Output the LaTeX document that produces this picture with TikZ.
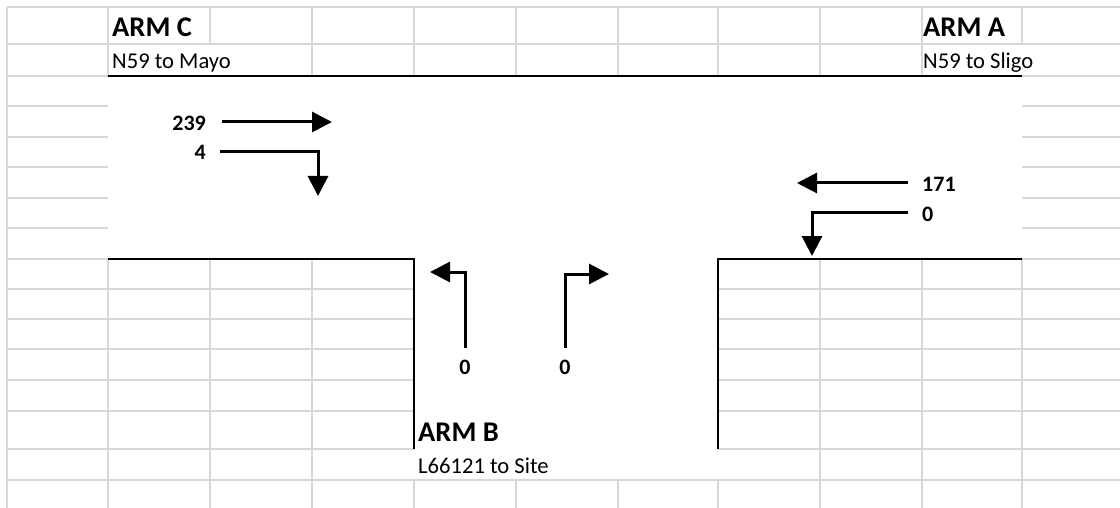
\documentclass[tikz,border=0pt]{standalone}
\usepackage{fontspec}
\setmainfont{Carlito}
\usetikzlibrary{arrows.meta}
\definecolor{gridgrey}{RGB}{216,216,216}
\begin{document}
\begin{tikzpicture}[x=1pt,y=-1pt,
  grid/.style={draw=gridgrey, line width=1.8pt},
  border/.style={draw=black, line width=2pt},
  flow/.style={draw=black, line width=3pt, -{Triangle[length=20pt,width=20pt]}},
  armlabel/.style={font=\fontsize{28.5}{30}\selectfont\bfseries, inner sep=0pt},
  roadlabel/.style={font=\fontsize{22.6}{24}\selectfont, inner sep=0pt},
  count/.style={font=\fontsize{22}{24}\selectfont\bfseries, inner sep=0pt}]
\fill[white] (0,0) rectangle (1120,508);
\useasboundingbox (0,0) rectangle (1120,508);

% ---- grey grid: horizontals
\draw[grid] (7,7) -- (1120,7);
\draw[grid] (7,44) -- (1120,44);
\foreach \y in {76,106,137,167,198,228,259}{
  \draw[grid] (7,\y) -- (108,\y);
  \draw[grid] (1022,\y) -- (1120,\y);
}
\foreach \y in {289,319,349,380,411,449}{
  \draw[grid] (7,\y) -- (414,\y);
  \draw[grid] (718,\y) -- (1120,\y);
}
\draw[grid] (7,480) -- (1120,480);
% ---- grey grid: verticals
\draw[grid] (7,7) -- (7,508);
\draw[grid] (210,7) -- (210,44);
\draw[grid] (1022,7) -- (1022,44);
\foreach \x in {108,312,414,516,618,718,820,922}{
  \draw[grid] (\x,7) -- (\x,76);
}
\foreach \x in {108,210,312,820,922,1022}{
  \draw[grid] (\x,259) -- (\x,508);
}
\foreach \x in {414,516,618,718}{
  \draw[grid] (\x,480) -- (\x,508);
}

% ---- road edges
\draw[border] (108,76) -- (1022,76);
\draw[border] (108,259) -- (414,259) -- (414,449);
\draw[border] (1022,259) -- (718,259) -- (718,449);

% ---- labels
\node[armlabel, anchor=base west] (armC) at (112,37) {ARM C};
\node[roadlabel, anchor=base west] (roadC) at (112,69) {N59 to Mayo};
\node[armlabel, anchor=base west] (armA) at (923,37) {ARM A};
\node[roadlabel, anchor=base west] (roadA) at (923,69) {N59 to Sligo};
\node[armlabel, anchor=base west] (armB) at (418,441) {ARM B};
\node[roadlabel, anchor=base west] (roadB) at (418,473) {L66121 to Site};

\node[count, anchor=base east] (n239) at (206,131) {239};
\node[count, anchor=base east] (n4) at (206,160) {4};
\node[count, anchor=base west] (n171) at (922,192) {171};
\node[count, anchor=base west] (n0a) at (922,222) {0};
\node[count, anchor=base] (n0b) at (465,374) {0};
\node[count, anchor=base] (n0c) at (565,374) {0};

% ---- arrow end points
\coordinate (s239) at (222,122); \coordinate (e239) at (332,122);
\coordinate (s4) at (220,152);   \coordinate (e4) at (318,196);
\coordinate (s171) at (908,183); \coordinate (e171) at (797,183);
\coordinate (s0a) at (908,213);  \coordinate (e0a) at (812,256);
\coordinate (s0b) at (465,348);  \coordinate (e0b) at (430,272);
\coordinate (s0c) at (565,348);  \coordinate (e0c) at (609,274);

% ---- movement arrows
\draw[flow] (s239) -- (e239);
\draw[flow] (s4) -| (e4);
\draw[flow] (s171) -- (e171);
\draw[flow] (s0a) -| (e0a);
\draw[flow] (s0b) |- (e0b);
\draw[flow] (s0c) |- (e0c);
\end{tikzpicture}
\end{document}
